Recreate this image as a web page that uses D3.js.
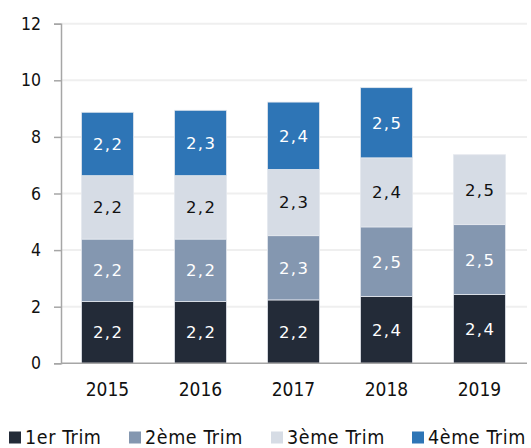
<!DOCTYPE html>
<html>
<head>
<meta charset="utf-8">
<script src="https://cdn.jsdelivr.net/npm/d3@7"></script>
<style>
  html, body { margin: 0; padding: 0; background: #ffffff; }
  svg { display: block; }
</style>
</head>
<body>
<script>
const years = ["2015", "2016", "2017", "2018", "2019"];
const seriesNames = ["1er Trim", "2ème Trim", "3ème Trim", "4ème Trim"];
const trim1 = [2.18, 2.18, 2.24, 2.36, 2.43];
const trim2 = [2.21, 2.21, 2.27, 2.46, 2.47];
const trim3 = [2.24, 2.24, 2.34, 2.44, 2.47];
const trim4 = [2.24, 2.31, 2.38, 2.48, null];
const yTicks = [0, 2, 4, 6, 8, 10, 12];
const colors = ["#232B38", "#8497B0", "#D6DCE5", "#2E75B6"];
const labelColors = ["#ffffff", "#ffffff", "#111111", "#ffffff"];

const W = 531, H = 448;
const svg = d3.select("body").append("svg").attr("width", W).attr("height", H);
const FONT = "'DejaVu Sans Condensed', 'DejaVu Sans', sans-serif";

const x = d3.scaleBand().domain(years).range([61, 526]).paddingInner(0.44).paddingOuter(0.22);
const y = d3.scaleLinear().domain([0, 12]).range([363.3, 23.7]);

// gridlines
svg.append("g").selectAll("line").data(yTicks.filter(t => t > 0)).join("line")
  .attr("x1", 61).attr("x2", 527)
  .attr("y1", d => y(d)).attr("y2", d => y(d))
  .attr("stroke", "#EFEFEF").attr("stroke-width", 2);

// y axis
const yAxis = svg.append("g").attr("transform", "translate(61,0)")
  .call(d3.axisLeft(y).tickValues(yTicks).tickSize(7).tickPadding(13).tickFormat(d3.format("d")));
yAxis.select(".domain").attr("stroke", "#A6A6A6").attr("stroke-width", 1.5);
yAxis.selectAll(".tick line").attr("stroke", "#A6A6A6").attr("stroke-width", 1.5);
yAxis.selectAll(".tick text").attr("font-family", FONT).attr("font-size", "17.5px").attr("fill", "#111");

// stacked data
const table = years.map((yr, i) => ({ year: yr, s0: trim1[i], s1: trim2[i], s2: trim3[i], s3: trim4[i] || 0 }));
const stack = d3.stack().keys(["s0", "s1", "s2", "s3"])(table);

const fmt = v => v.toFixed(1).replace(".", ",");

stack.forEach((layer, li) => {
  const g = svg.append("g");
  const segs = layer.filter(d => d[1] - d[0] > 0);
  g.selectAll("rect").data(segs).join("rect")
    .attr("x", d => x(d.data.year))
    .attr("width", x.bandwidth())
    .attr("y", d => y(d[1]))
    .attr("height", d => y(d[0]) - y(d[1]))
    .attr("fill", colors[li])
    .attr("stroke", "#E4E8EE").attr("stroke-width", 0.8);
  g.selectAll("text").data(segs).join("text")
    .attr("x", d => x(d.data.year) + x.bandwidth() / 2 + 0.75)
    .attr("y", d => (y(d[0]) + y(d[1])) / 2)
    .attr("dy", "0.36em")
    .attr("text-anchor", "middle")
    .attr("font-family", "'DejaVu Sans', sans-serif")
    .attr("font-size", "16.5px")
    .attr("letter-spacing", "1.5px")
    .attr("fill", labelColors[li])
    .text(d => fmt(d[1] - d[0]));
});

// x axis
const xAxis = svg.append("g").attr("transform", "translate(0,363.3)")
  .call(d3.axisBottom(x).tickSize(0).tickPadding(19));
xAxis.select(".domain").attr("stroke", "#A6A6A6").attr("stroke-width", 1.5).attr("d", "M61,0H527");
xAxis.selectAll(".tick text").attr("font-family", FONT).attr("font-size", "19px").attr("fill", "#111");

// legend
const legendX = [9, 129, 271, 412];
const lg = svg.append("g");
seriesNames.forEach((name, i) => {
  lg.append("rect").attr("x", legendX[i]).attr("y", 431.5).attr("width", 12).attr("height", 12).attr("fill", colors[i]);
  lg.append("text").attr("x", legendX[i] + 16).attr("y", 444)
    .attr("font-family", FONT).attr("font-size", "19.5px").attr("letter-spacing", "0.6px")
    .attr("fill", "#111").text(name);
});
</script>
</body>
</html>
